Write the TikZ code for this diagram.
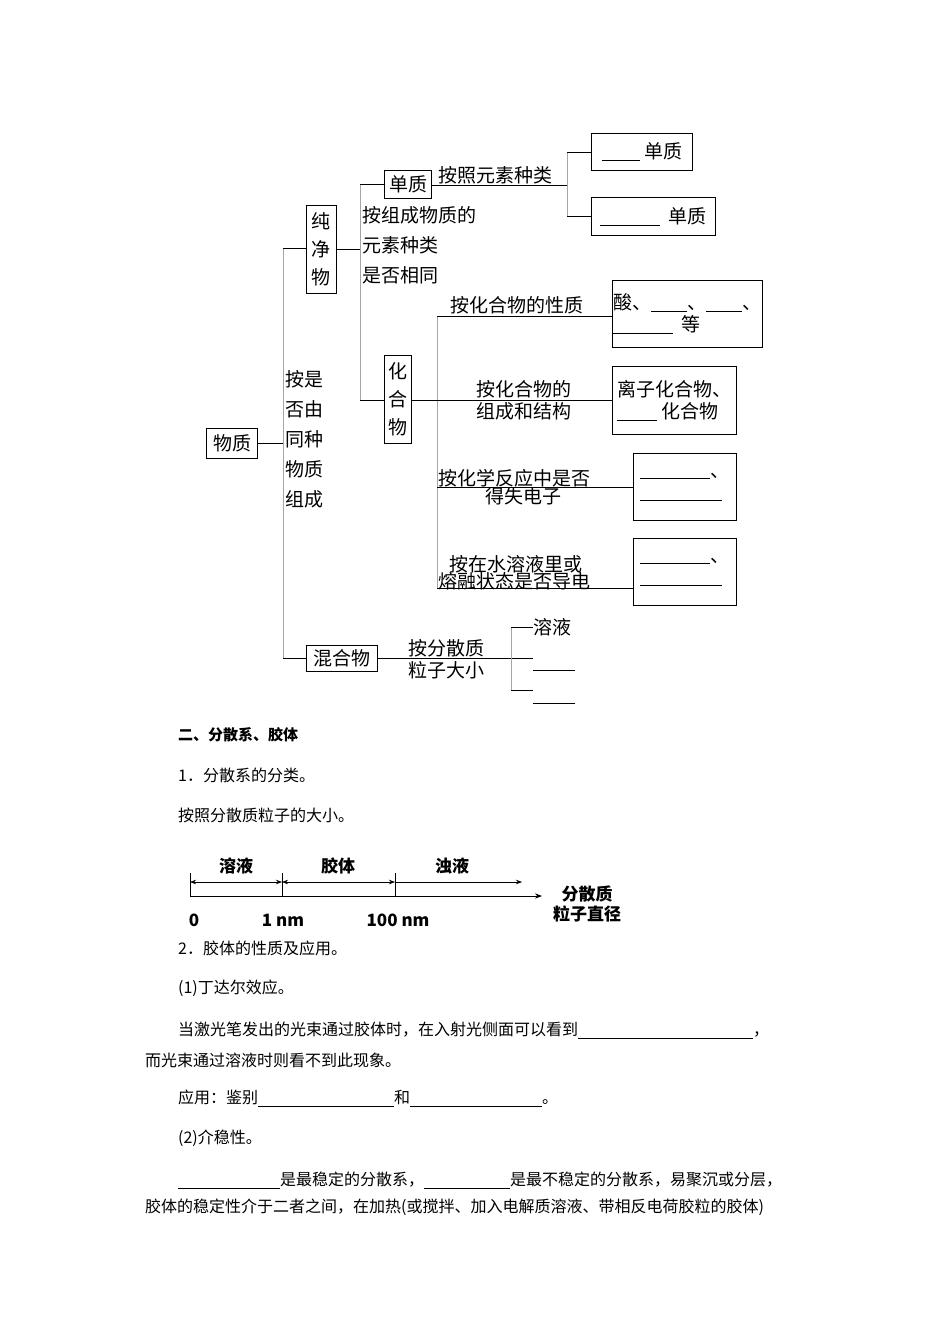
\documentclass[tikz,border=0pt]{standalone}
\usepackage{fontspec}
\setmainfont{Noto Sans CJK SC}
\newfontfamily\serifcjk{Noto Sans CJK SC}
\usetikzlibrary{arrows.meta}
\newcommand{\blk}[1]{\rule[-2pt]{#1pt}{0.7pt}}
\tikzset{
  bx/.style={draw,thick,inner sep=2pt,font=\fontsize{19}{22}\selectfont},
  tt/.style={inner sep=0pt,font=\fontsize{19}{22}\selectfont},
  ln/.style={draw,line width=0.8pt},
  gl/.style={draw=gray!70,line width=0.8pt},
  bt/.style={inner sep=0pt,anchor=west,font=\fontsize{16}{19}\selectfont},
  ax/.style={inner sep=0pt,font=\fontsize{17}{20}\selectfont\bfseries}
}
\begin{document}
\begin{tikzpicture}[x=1pt,y=-1pt]
\useasboundingbox[fill=white] (0,0) rectangle (950,1344);
% tree boxes
\node[bx,minimum width=51,minimum height=30] (wz) at (232,443) {物质};
\node[bx,align=center,minimum width=30,minimum height=88,inner sep=1pt] (cjw) at (321,249) {纯\\[6pt]净\\[6pt]物};
\node[bx,minimum width=47,minimum height=28] (dz) at (408,184) {单质};
\node[bx,align=center,minimum width=27,minimum height=88,inner sep=1pt] (hhw) at (398,399) {化\\[6pt]合\\[6pt]物};
\node[bx,minimum width=71,minimum height=26,inner sep=1pt] (hunhe) at (342,658) {混合物};
\node[bx,minimum width=101,minimum height=37,anchor=north west] (b1) at (591,133) {\blk{38}\ 单质};
\node[bx,minimum width=124,minimum height=38,anchor=north west] (b2) at (591,197) {\blk{60}\ \ 单质};
\node[bx,minimum width=146,minimum height=67,anchor=north west,align=left,inner sep=1pt] (b3) at (612,280) {酸、\blk{36}、\blk{36}、\\\blk{60}\ \ 等};
\node[bx,minimum width=124,minimum height=68,anchor=north west,align=left,inner sep=1pt] (b4) at (612,366) {离子化合物、\\\blk{40}\ 化合物};
\node[bx,minimum width=103,minimum height=67,anchor=north west,align=left] (b5) at (633,453) {\blk{70}、\\\blk{82}};
\node[bx,minimum width=103,minimum height=67,anchor=north west,align=left] (b6) at (633,538) {\blk{70}、\\\blk{82}};
% labels
\node[tt,anchor=north west,align=left] (l1) at (285,370) {按是\\[8pt]否由\\[8pt]同种\\[8pt]物质\\[8pt]组成};
\node[tt,anchor=north west,align=left] (l2) at (362,206) {按组成物质的\\[8pt]元素种类\\[8pt]是否相同};
\node[tt,anchor=south west] (l3) at (438,184) {按照元素种类};
\node[tt,anchor=south west] (l4) at (450,314) {按化合物的性质};
\node[tt,align=center] (l5) at (524,400) {按化合物的\\组成和结构};
\node[tt,anchor=south west] (l6) at (438,487) {按化学反应中是否};
\node[tt,anchor=north] (l6b) at (523,487) {得失电子};
\node[tt,anchor=south west] (l7) at (449,573) {按在水溶液里或};
\node[tt,anchor=north west] (l7b) at (438,572) {熔融状态是否导电};
\node[tt,align=center] (l8) at (446,659) {按分散质\\粒子大小};
\node[tt,anchor=west] (l9) at (533,627) {溶液};
\coordinate (t1) at (533,670); \coordinate (t1e) at (575,670);
\coordinate (t2) at (533,703); \coordinate (t2e) at (575,703);
% connectors
\coordinate (v1t) at (283,248); \coordinate (v1b) at (283,658);
\draw[ln] (wz.east) -- (wz.east -| v1t);
\draw[gl] (v1t) -- (v1b);
\draw[ln] (v1t) -- (cjw.west |- v1t);
\draw[ln] (v1b) -- (hunhe.west);
\coordinate (v2t) at (360,184); \coordinate (v2b) at (360,400);
\draw[ln] (cjw.east) -- (cjw.east -| v2t);
\draw[gl] (v2t) -- (v2b);
\draw[ln] (v2t) -- (dz.west);
\draw[ln] (v2b) -- (hhw.west |- v2b);
\coordinate (v3t) at (567,152); \coordinate (v3b) at (567,216);
\draw[ln] (dz.east |- 0,185) -- (567,185);
\draw[gl] (v3t) -- (v3b);
\draw[ln] (v3t) -- (b1.west |- v3t);
\draw[ln] (v3b) -- (b2.west |- v3b);
\coordinate (v4t) at (437,316); \coordinate (v4b) at (437,588);
\draw[gl] (v4t) -- (v4b);
\draw[ln] (v4t) -- (b3.west |- v4t);
\draw[ln] (hhw.east |- 0,400) -- (b4.west |- 0,400);
\draw[ln] (437,487) -- (b5.west |- 0,487);
\draw[ln] (v4b) -- (b6.west |- v4b);
\coordinate (v5t) at (511,627); \coordinate (v5b) at (511,690);
\draw[ln] (hunhe.east) -- (533,658);
\draw[gl] (v5t) -- (v5b);
\draw[ln] (v5t) -- (l9.west);
\draw[ln] (v5b) -- (533,690);
\draw[ln] (t1) -- (t1e);
\draw[ln] (t2) -- (t2e);
% body text
\node[bt,font=\fontsize{15}{18}\selectfont\bfseries] (h1) at (178,735) {二、分散系、胶体};
\node[bt] (h2) at (178,775) {1．分散系的分类。};
\node[bt] (h3) at (178,815) {按照分散质粒子的大小。};
% axis
\coordinate (a0) at (190,896); \coordinate (a1) at (282,896); \coordinate (a2) at (395,896); \coordinate (ae) at (542,896);
\draw[line width=0.8pt,-{Stealth[length=7pt]}] (a0) -- (ae);
\foreach \p in {a0,a1,a2} \draw[line width=0.8pt] (\p) -- ++(0,-23);
\draw[line width=0.6pt,{Stealth[length=6pt]}-{Stealth[length=6pt]}] (190,882) -- (282,882);
\draw[line width=0.6pt,{Stealth[length=6pt]}-{Stealth[length=6pt]}] (282,882) -- (395,882);
\draw[line width=0.6pt,-{Stealth[length=6pt]}] (395,882) -- (522,882);
\node[ax] (s1) at (236,866) {溶液};
\node[ax] (s2) at (338,866) {胶体};
\node[ax] (s3) at (452,866) {浊液};
\node[ax] (n0) at (194,920) {0};
\node[ax] (n1) at (283,920) {1 nm};
\node[ax] (n2) at (398,920) {100 nm};
\node[ax,align=center] (ax1) at (587,904) {分散质\\粒子直径};
\node[bt] (p1) at (178,948) {2．胶体的性质及应用。};
\node[bt] (p2) at (178,988) {(1)丁达尔效应。};
\node[bt] (p3) at (178,1030) {当激光笔发出的光束通过胶体时，在入射光侧面可以看到\rule[-3pt]{175pt}{0.4pt}，};
\node[bt] (p4) at (145,1060) {而光束通过溶液时则看不到此现象。};
\node[bt] (p5) at (178,1098) {应用：鉴别\rule[-3pt]{136pt}{0.4pt}和\rule[-3pt]{132pt}{0.4pt}。};
\node[bt] (p6) at (178,1138) {(2)介稳性。};
\node[bt] (p7) at (178,1180) {\rule[-3pt]{102pt}{0.4pt}是最稳定的分散系，\rule[-3pt]{86pt}{0.4pt}是最不稳定的分散系，易聚沉或分层，};
\node[bt] (p8) at (145,1207) {胶体的稳定性介于二者之间，在加热(或搅拌、加入电解质溶液、带相反电荷胶粒的胶体)};
\end{tikzpicture}
\end{document}
